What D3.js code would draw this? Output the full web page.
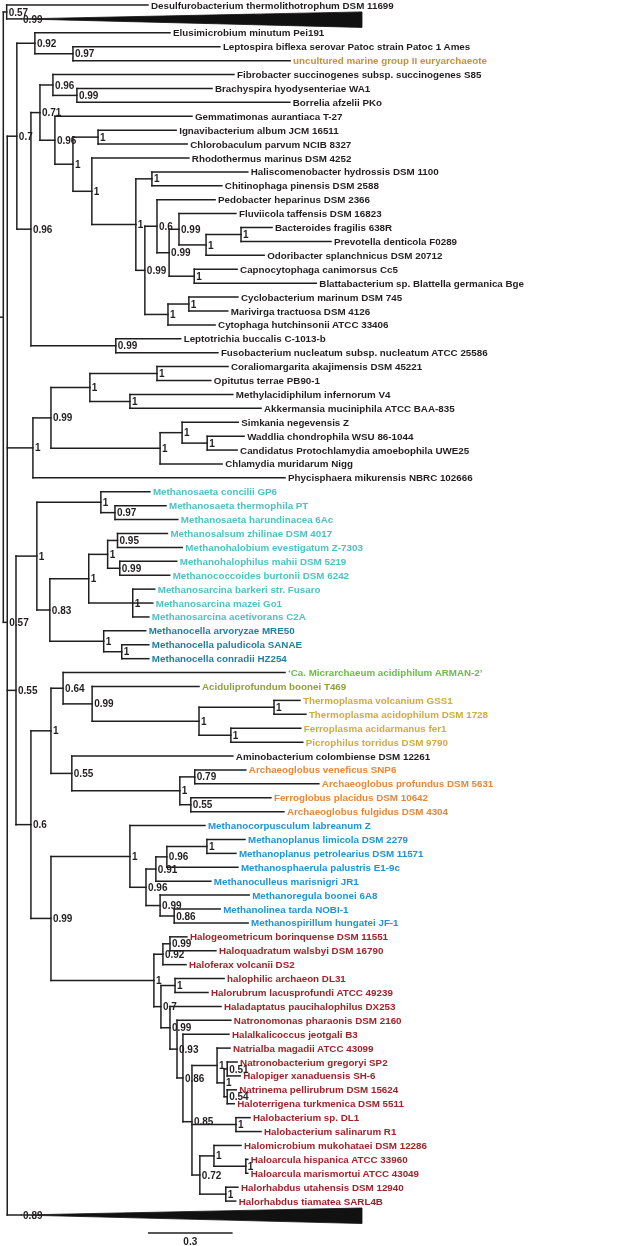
<!DOCTYPE html>
<html><head><meta charset="utf-8">
<script src="https://cdn.jsdelivr.net/npm/d3@7"></script>
<style>body{margin:0;background:#fff}svg{display:block;will-change:transform}</style>
</head><body>
<svg id="chart" width="624" height="1246"></svg>
<script>
// Each row: [node, parent, branch length (subst./site), support]
const rootRows = [
  ["root", "", 0, ""],
  ["nA", "root", 0.012, "0.57"],
  ["Desulfurobacterium thermolithotrophum DSM 11699", "nA", 0.501, ""],
  ["clade1", "nA", 0.051, "0.99"],
  ["nB", "root", 0.014, "0.57"]
];
const bacteriaRowsA = [
  ["n07", "nB", 0.034, "0.7"],
  ["n092", "n07", 0.064, "0.92"],
  ["Elusimicrobium minutum Pei191", "n092", 0.479, ""],
  ["n097", "n092", 0.135, "0.97"],
  ["Leptospira biflexa serovar Patoc strain Patoc 1 Ames", "n097", 0.521, ""],
  ["uncultured marine group II euryarchaeote", "n097", 0.770, ""],
  ["n096a", "n07", 0.050, "0.96"],
  ["n071", "n096a", 0.032, "0.71"],
  ["n096b", "n071", 0.046, "0.96"],
  ["Fibrobacter succinogenes subsp. succinogenes S85", "n096b", 0.642, ""],
  ["n099a", "n096b", 0.085, "0.99"],
  ["Brachyspira hyodysenteriae WA1", "n099a", 0.479, ""],
  ["Borrelia afzelii PKo", "n099a", 0.755, ""],
  ["n096c", "n071", 0.053, "0.96"],
  ["Gemmatimonas aurantiaca T-27", "n096c", 0.486, ""],
  ["n1a", "n096c", 0.064, "1"],
  ["n1b", "n1a", 0.089, "1"],
  ["Ignavibacterium album JCM 16511", "n1b", 0.277, ""],
  ["Chlorobaculum parvum NCIB 8327", "n1b", 0.316, ""],
  ["n1c", "n1a", 0.067, "1"],
  ["Rhodothermus marinus DSM 4252", "n1c", 0.344, ""],
  ["n1d", "n1c", 0.156, "1"],
  ["n1e", "n1d", 0.057, "1"],
  ["Haliscomenobacter hydrossis DSM 1100", "n1e", 0.340, ""],
  ["Chitinophaga pinensis DSM 2588", "n1e", 0.248, ""],
  ["n099b", "n1d", 0.032, "0.99"],
  ["n06", "n099b", 0.043, "0.6"],
  ["Pedobacter heparinus DSM 2366", "n06", 0.206, ""],
  ["n099c", "n06", 0.043, "0.99"],
  ["n099d", "n099c", 0.035, "0.99"],
  ["Fluviicola taffensis DSM 16823", "n099d", 0.202, ""],
  ["n1f", "n099d", 0.096, "1"],
  ["n1g", "n1f", 0.124, "1"],
  ["Bacteroides fragilis 638R", "n1g", 0.110, ""],
  ["Prevotella denticola F0289", "n1g", 0.319, ""],
  ["Odoribacter splanchnicus DSM 20712", "n1f", 0.206, ""],
  ["n1h", "n099c", 0.089, "1"],
  ["Capnocytophaga canimorsus Cc5", "n1h", 0.152, ""],
  ["Blattabacterium sp. Blattella germanica Bge", "n1h", 0.433, ""],
  ["n1i", "n099b", 0.082, "1"],
  ["n1j", "n1i", 0.074, "1"],
  ["Cyclobacterium marinum DSM 745", "n1j", 0.174, ""],
  ["Marivirga tractuosa DSM 4126", "n1j", 0.138, ""],
  ["Cytophaga hutchinsonii ATCC 33406", "n1i", 0.167, ""],
  ["n099e", "n096a", 0.301, "0.99"],
  ["Leptotrichia buccalis C-1013-b", "n099e", 0.230, ""],
  ["Fusobacterium nucleatum subsp. nucleatum ATCC 25586", "n099e", 0.362, ""]
];
const bacteriaRowsB = [
  ["n1k", "nB", 0.091, "1"],
  ["n099f", "n1k", 0.064, "0.99"],
  ["n1l", "n099f", 0.138, "1"],
  ["n1m", "n1l", 0.238, "1"],
  ["Coraliomargarita akajimensis DSM 45221", "n1m", 0.252, ""],
  ["Opitutus terrae PB90-1", "n1m", 0.191, ""],
  ["n1n", "n1l", 0.142, "1"],
  ["Methylacidiphilum infernorum V4", "n1n", 0.365, ""],
  ["Akkermansia muciniphila ATCC BAA-835", "n1n", 0.465, ""],
  ["n1o", "n099f", 0.387, "1"],
  ["n1p", "n1o", 0.078, "1"],
  ["Simkania negevensis Z", "n1p", 0.199, ""],
  ["n1q", "n1p", 0.089, "1"],
  ["Waddlia chondrophila WSU 86-1044", "n1q", 0.131, ""],
  ["Candidatus Protochlamydia amoebophila UWE25", "n1q", 0.106, ""],
  ["Chlamydia muridarum Nigg", "n1o", 0.220, ""],
  ["Phycisphaera mikurensis NBRC 102666", "n1k", 0.894, ""]
];
const methanosarcinaRows = [
  ["n055", "nB", 0.031, "0.55"],
  ["n1r", "n055", 0.074, "1"],
  ["n1s", "n1r", 0.227, "1"],
  ["Methanosaeta concilii GP6", "n1s", 0.174, ""],
  ["n097m", "n1s", 0.050, "0.97"],
  ["Methanosaeta thermophila PT", "n097m", 0.181, ""],
  ["Methanosaeta harundinacea 6Ac", "n097m", 0.223, ""],
  ["n083", "n1r", 0.046, "0.83"],
  ["n1t", "n083", 0.138, "1"],
  ["n1u", "n1t", 0.067, "1"],
  ["n095", "n1u", 0.035, "0.95"],
  ["Methanosalsum zhilinae DSM 4017", "n095", 0.177, ""],
  ["Methanohalobium evestigatum Z-7303", "n095", 0.230, ""],
  ["n099m", "n1u", 0.043, "0.99"],
  ["Methanohalophilus mahii DSM 5219", "n099m", 0.202, ""],
  ["Methanococcoides burtonii DSM 6242", "n099m", 0.177, ""],
  ["n1v", "n1t", 0.156, "1"],
  ["Methanosarcina barkeri str. Fusaro", "n1v", 0.078, ""],
  ["Methanosarcina mazei Go1", "n1v", 0.071, ""],
  ["Methanosarcina acetivorans C2A", "n1v", 0.057, ""],
  ["n1w", "n083", 0.191, "1"],
  ["Methanocella arvoryzae MRE50", "n1w", 0.149, ""],
  ["n1x", "n1w", 0.064, "1"],
  ["Methanocella paludicola SANAE", "n1x", 0.096, ""],
  ["Methanocella conradii HZ254", "n1x", 0.096, ""]
];
const thermoRows = [
  ["n06a", "n055", 0.053, "0.6"],
  ["n1y", "n06a", 0.071, "1"],
  ["n064", "n1y", 0.043, "0.64"],
  ["‘Ca. Micrarchaeum acidiphilum ARMAN-2’", "n064", 0.787, ""],
  ["n099t", "n064", 0.103, "0.99"],
  ["Aciduliprofundum boonei T469", "n099t", 0.379, ""],
  ["n1z", "n099t", 0.379, "1"],
  ["n1aa", "n1z", 0.266, "1"],
  ["Thermoplasma volcanium GSS1", "n1aa", 0.092, ""],
  ["Thermoplasma acidophilum DSM 1728", "n1aa", 0.113, ""],
  ["n1ab", "n1z", 0.113, "1"],
  ["Ferroplasma acidarmanus fer1", "n1ab", 0.248, ""],
  ["Picrophilus torridus DSM 9790", "n1ab", 0.255, ""],
  ["n055a", "n1y", 0.074, "0.55"],
  ["Aminobacterium colombiense DSM 12261", "n055a", 0.571, ""],
  ["n1ac", "n055a", 0.383, "1"],
  ["n079", "n1ac", 0.053, "0.79"],
  ["Archaeoglobus veneficus SNP6", "n079", 0.181, ""],
  ["Archaeoglobus profundus DSM 5631", "n079", 0.440, ""],
  ["n055b", "n1ac", 0.039, "0.55"],
  ["Ferroglobus placidus DSM 10642", "n055b", 0.284, ""],
  ["Archaeoglobus fulgidus DSM 4304", "n055b", 0.330, ""]
];
const methanomicrobiaRows = [
  ["n099h", "n06a", 0.071, "0.99"],
  ["n1ad", "n099h", 0.280, "1"],
  ["Methanocorpusculum labreanum Z", "n1ad", 0.266, ""],
  ["n096m", "n1ad", 0.057, "0.96"],
  ["n091", "n096m", 0.035, "0.91"],
  ["n096p", "n091", 0.039, "0.96"],
  ["n1ae", "n096p", 0.142, "1"],
  ["Methanoplanus limicola DSM 2279", "n1ae", 0.135, ""],
  ["Methanoplanus petrolearius DSM 11571", "n1ae", 0.103, ""],
  ["Methanosphaerula palustris E1-9c", "n096p", 0.252, ""],
  ["Methanoculleus marisnigri JR1", "n091", 0.195, ""],
  ["n099r", "n096m", 0.050, "0.99"],
  ["Methanoregula boonei 6A8", "n099r", 0.316, ""],
  ["n086m", "n099r", 0.050, "0.86"],
  ["Methanolinea tarda NOBI-1", "n086m", 0.163, ""],
  ["Methanospirillum hungatei JF-1", "n086m", 0.262, ""]
];
const halobacteriaRows = [
  ["n1af", "n099h", 0.365, "1"],
  ["n092h", "n1af", 0.032, "0.92"],
  ["n099g", "n092h", 0.025, "0.99"],
  ["Halogeometricum borinquense DSM 11551", "n099g", 0.060, ""],
  ["Haloquadratum walsbyi DSM 16790", "n099g", 0.163, ""],
  ["Haloferax volcanii DS2", "n092h", 0.082, ""],
  ["n07h", "n1af", 0.025, "0.7"],
  ["n1ag", "n07h", 0.050, "1"],
  ["halophilic archaeon DL31", "n1ag", 0.174, ""],
  ["Halorubrum lacusprofundi ATCC 49239", "n1ag", 0.117, ""],
  ["n099q", "n07h", 0.032, "0.99"],
  ["Haladaptatus paucihalophilus DX253", "n099q", 0.181, ""],
  ["n093", "n099q", 0.025, "0.93"],
  ["Natronomonas pharaonis DSM 2160", "n093", 0.191, ""],
  ["n086", "n093", 0.021, "0.86"],
  ["Halalkalicoccus jeotgali B3", "n086", 0.163, ""],
  ["n085", "n086", 0.032, "0.85"],
  ["n1ah", "n085", 0.089, "1"],
  ["Natrialba magadii ATCC 43099", "n1ah", 0.046, ""],
  ["n1ai", "n1ah", 0.025, "1"],
  ["n051", "n1ai", 0.011, "0.51"],
  ["Natronobacterium gregoryi SP2", "n051", 0.035, ""],
  ["Halopiger xanaduensis SH-6", "n051", 0.046, ""],
  ["n054", "n1ai", 0.011, "0.54"],
  ["Natrinema pellirubrum DSM 15624", "n054", 0.032, ""],
  ["Haloterrigena turkmenica DSM 5511", "n054", 0.025, ""],
  ["n1aj", "n085", 0.156, "1"],
  ["Halobacterium sp. DL1", "n1aj", 0.050, ""],
  ["Halobacterium salinarum R1", "n1aj", 0.089, ""],
  ["n072", "n085", 0.028, "0.72"],
  ["n1ak", "n072", 0.050, "1"],
  ["Halomicrobium mukohataei DSM 12286", "n1ak", 0.096, ""],
  ["n1al", "n1ak", 0.113, "1"],
  ["Haloarcula hispanica ATCC 33960", "n1al", 0.007, ""],
  ["Haloarcula marismortui ATCC 43049", "n1al", 0.007, ""],
  ["n1am", "n072", 0.092, "1"],
  ["Halorhabdus utahensis DSM 12940", "n1am", 0.043, ""],
  ["Halorhabdus tiamatea SARL4B", "n1am", 0.035, ""]
];
const lastRows = [
  ["clade2", "nB", 0.049, "0.89"]
];
// collapsed clades: depth from clade root to farthest tip
const collapsedClades = ["clade1", "clade2"];
const collapsedDepths = [1.209, 1.209];

// leaf colour groups
const groupUncultured = ["uncultured marine group II euryarchaeote"];
const groupMethanosarcinales = ["Methanosaeta concilii GP6","Methanosaeta thermophila PT","Methanosaeta harundinacea 6Ac","Methanosalsum zhilinae DSM 4017","Methanohalobium evestigatum Z-7303","Methanohalophilus mahii DSM 5219","Methanococcoides burtonii DSM 6242","Methanosarcina barkeri str. Fusaro","Methanosarcina mazei Go1","Methanosarcina acetivorans C2A"];
const groupMethanocellales = ["Methanocella arvoryzae MRE50","Methanocella paludicola SANAE","Methanocella conradii HZ254"];
const groupMicrarchaeum = ["‘Ca. Micrarchaeum acidiphilum ARMAN-2’"];
const groupAciduliprofundum = ["Aciduliprofundum boonei T469"];
const groupThermoplasmata = ["Thermoplasma volcanium GSS1","Thermoplasma acidophilum DSM 1728","Ferroplasma acidarmanus fer1","Picrophilus torridus DSM 9790"];
const groupArchaeoglobi = ["Archaeoglobus veneficus SNP6","Archaeoglobus profundus DSM 5631","Ferroglobus placidus DSM 10642","Archaeoglobus fulgidus DSM 4304"];
const groupMethanomicrobiales = ["Methanocorpusculum labreanum Z","Methanoplanus limicola DSM 2279","Methanoplanus petrolearius DSM 11571","Methanosphaerula palustris E1-9c","Methanoculleus marisnigri JR1","Methanoregula boonei 6A8","Methanolinea tarda NOBI-1","Methanospirillum hungatei JF-1"];
const groupHalobacteria = ["Halogeometricum borinquense DSM 11551","Haloquadratum walsbyi DSM 16790","Haloferax volcanii DS2","halophilic archaeon DL31","Halorubrum lacusprofundi ATCC 49239","Haladaptatus paucihalophilus DX253","Natronomonas pharaonis DSM 2160","Halalkalicoccus jeotgali B3","Natrialba magadii ATCC 43099","Natronobacterium gregoryi SP2","Halopiger xanaduensis SH-6","Natrinema pellirubrum DSM 15624","Haloterrigena turkmenica DSM 5511","Halobacterium sp. DL1","Halobacterium salinarum R1","Halomicrobium mukohataei DSM 12286","Haloarcula hispanica ATCC 33960","Haloarcula marismortui ATCC 43049","Halorhabdus utahensis DSM 12940","Halorhabdus tiamatea SARL4B"];
const scaleBarValue = 0.3;

// ---------- styles ----------
const palette = new Map();
[[groupUncultured,"#c8913b"],[groupMethanosarcinales,"#4fc1c3"],[groupMethanocellales,"#23809f"],
 [groupMicrarchaeum,"#6abd46"],[groupAciduliprofundum,"#8fa23a"],[groupThermoplasmata,"#d0ac3a"],
 [groupArchaeoglobi,"#e7873a"],[groupMethanomicrobiales,"#2194d2"],[groupHalobacteria,"#a1232a"]]
 .forEach(([names,c]) => names.forEach(n => palette.set(n,c)));

// ---------- build ----------
const collapsed = new Map(collapsedClades.map((c,i)=>[c, collapsedDepths[i]]));
const rows = [].concat(rootRows, bacteriaRowsA, bacteriaRowsB, methanosarcinaRows, thermoRows,
                       methanomicrobiaRows, halobacteriaRows, lastRows)
  .map(r => ({id:r[0], parent:r[1], len:r[2], support:r[3]}));
const root = d3.stratify().id(d=>d.id).parentId(d=>d.parent || null)(rows);

root.eachBefore(d => { d.dist = d.parent ? d.parent.dist + d.data.len : 0; });
const leaves = root.leaves();

const x = d3.scaleLinear().domain([0, 1]).range([3.3, 285.3]);
const y = d3.scaleLinear().domain([0, leaves.length - 1]).range([5, 1215]);
leaves.forEach((d,i) => d.py = y(i));
root.eachAfter(d => { if (d.children) d.py = d3.mean(d.children, c => c.py); });

const svg = d3.select("#chart");
const gLines = svg.append("g").attr("fill","none").attr("stroke","#1f1f1f")
  .attr("stroke-width",1.5).attr("stroke-linecap","square");

gLines.append("path").attr("d", `M0,${root.py}H${x(0)}`);
gLines.selectAll("path.h").data(root.descendants().filter(d=>d.parent))
  .join("path").attr("class","h")
  .attr("d", d => `M${x(d.parent.dist)},${d.py}H${x(d.dist)}`);
gLines.selectAll("path.v").data(root.descendants().filter(d=>d.children))
  .join("path").attr("class","v")
  .attr("d", d => {
    const ys = d.children.map(c=>c.py);
    return `M${x(d.dist)},${d3.min(ys)}V${d3.max(ys)}`;
  });

svg.append("g").selectAll("path").data(leaves.filter(d=>collapsed.has(d.id)))
  .join("path").attr("fill","#111").attr("stroke","#111").attr("stroke-width",0.8)
  .attr("d", d => {
    const x0 = x(d.dist), x1 = x(d.dist + collapsed.get(d.id));
    return `M${x0},${d.py}L${x1},${d.py-7}L${x1},${d.py+8.5}Z`;
  });

const font = "'Liberation Sans',Arial,Helvetica,sans-serif";
svg.append("g").attr("font-family",font).attr("font-size",9.8).attr("font-weight","bold")
  .selectAll("text").data(leaves.filter(d=>!collapsed.has(d.id)))
  .join("text")
  .attr("x", d => x(d.dist) + 3).attr("y", d => d.py).attr("dy","0.36em")
  .attr("fill", d => palette.get(d.id) || "#231f20")
  .text(d => d.id);

svg.append("g").attr("font-family",font).attr("font-size",10).attr("font-weight","bold")
  .attr("fill","#231f20")
  .selectAll("text").data(root.descendants().filter(d=>d.data.support))
  .join("text")
  .attr("x", d => x(d.dist) + 2).attr("y", d => d.py).attr("dy", "0.36em")
  .text(d => d.data.support);

const sbX = 148, sbY = 1233;
svg.append("path").attr("stroke","#1f1f1f").attr("stroke-width",1.5)
  .attr("d", `M${sbX},${sbY}H${sbX + x(scaleBarValue) - x(0)}`);
svg.append("text").attr("x", sbX + (x(scaleBarValue)-x(0))/2).attr("y", 1245)
  .attr("text-anchor","middle").attr("font-family",font).attr("font-size",10)
  .attr("font-weight","bold").attr("fill","#231f20").text(String(scaleBarValue));
</script>
</body></html>
